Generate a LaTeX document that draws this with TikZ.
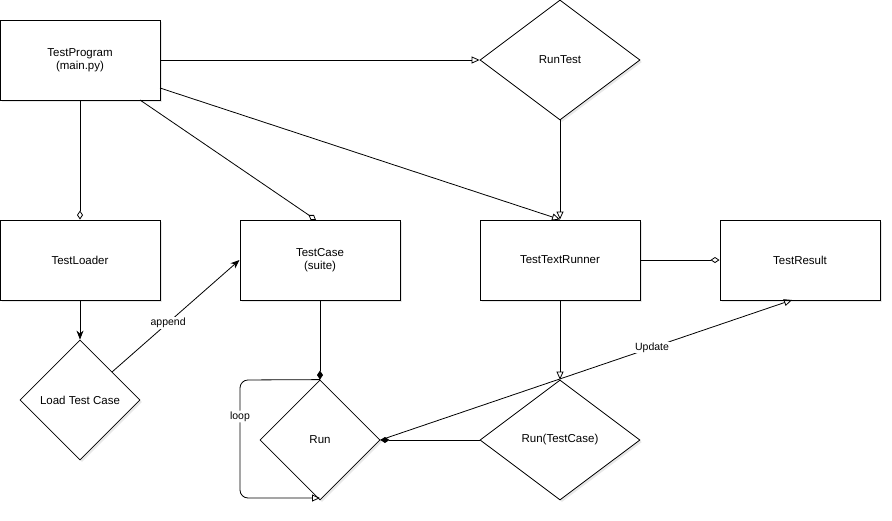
\documentclass[tikz,border=0pt]{standalone}
\usepackage{fontspec}
\setmainfont{Liberation Sans}
\usetikzlibrary{arrows.meta,shapes.geometric,shadows}
\begin{document}
\begin{tikzpicture}[x=1pt,y=-1pt,
  every node/.style={font=\fontsize{11.5}{13.5}\selectfont},
  shd/.style={drop shadow={opacity=0.18,shadow xshift=2pt,shadow yshift=-2pt}},
  box/.style={draw,line width=1pt,fill=white,shd,minimum width=160pt,minimum height=80pt,inner sep=0pt,align=center},
  dia/.style={draw,line width=0.8pt,fill=white,shd,diamond,inner sep=0pt,aspect=#1},
  conn/.style={line width=0.8pt},
  otri/.style={-{Triangle[open,length=8pt,width=7pt]}},
  odia/.style={-{Diamond[open,length=9pt,width=6pt]}},
  fdia/.style={-{Diamond[length=9pt,width=6pt]}},
  farr/.style={-{Stealth[length=9pt,width=7pt]}},
  lbl/.style={fill=white,inner sep=1pt,font=\fontsize{10.5}{12}\selectfont}]
\useasboundingbox (0,0) rectangle (892,520);
% nodes
\node[box] (prog) at (80,60) {TestProgram\\(main.py)};
\node[dia=1.333,minimum width=160pt,minimum height=120pt] (runtest) at (560,60) {RunTest};
\node[box] (loader) at (80,260) {TestLoader};
\node[box] (tcase) at (320,260) {TestCase\\(suite)};
\node[box] (runner) at (560,260) {TestTextRunner};
\node[box] (result) at (800,260) {TestResult};
\node[dia=1,minimum width=120pt,minimum height=120pt] (load) at (80,400) {Load Test Case};
\node[dia=1,minimum width=120pt,minimum height=120pt] (run) at (320,440) {Run};
\node[dia=1.333,minimum width=160pt,minimum height=120pt] (runtc) at (560,440) {Run(TestCase)};
% connectors
\coordinate (p1) at (160,88);
\coordinate (p2) at (140,100);
\coordinate (tcTop) at (316,220);
\coordinate (loadR) at (112,372);
\coordinate (resB) at (792,300);
\coordinate (l1) at (240,380);
\coordinate (l2) at (240,498);
\coordinate (runB) at (320,498);
\draw[conn,otri] (prog.east) -- (runtest.west);
\draw[conn,otri] (p1) -- (runner.north);
\draw[conn,odia] (p2) -- (tcTop);
\draw[conn,odia] (prog.south) -- (loader.north);
\draw[conn,otri] (runtest.south) -- (runner.north);
\draw[conn,odia] (runner.east) -- (result.west);
\draw[conn,farr] (loader.south) -- (load.north);
\draw[conn,farr] (loadR) -- node[lbl,pos=0.44]{append} (tcase.west);
\draw[conn,fdia] (tcase.south) -- (run.north);
\draw[conn,fdia] (runtc.west) -- (run.east);
\draw[conn,otri] (runner.south) -- (runtc.north);
\draw[conn,otri] (run.east) -- node[lbl,pos=0.66]{Update} (resB);
\draw[conn,otri,rounded corners=8pt] (run.north) -- (l1) -- node[lbl,pos=0.31]{loop} (l2) -- (runB);
\end{tikzpicture}
\end{document}
